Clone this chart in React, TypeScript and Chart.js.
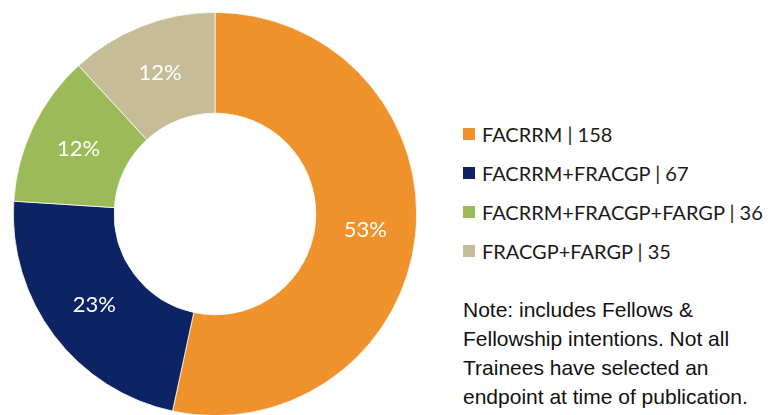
import React, { useEffect, useRef } from "react";
import { Chart, registerables } from "chart.js";

Chart.register(...registerables);

const categories = ["FACRRM", "FACRRM+FRACGP", "FACRRM+FRACGP+FARGP", "FRACGP+FARGP"];
const values = [158, 67, 36, 35];
const colors = ["#F0922B", "#0C2463", "#9BBB59", "#C4BD97"];
const noteLines = [
  "Note: includes Fellows &",
  "Fellowship intentions. Not all",
  "Trainees have selected an",
  "endpoint at time of publication.",
];

const labelPlugin = {
  id: "sliceLabels",
  afterDatasetsDraw(chart: any) {
    const ctx = chart.ctx;
    const meta = chart.getDatasetMeta(0);
    const data = chart.data.datasets[0].data as number[];
    const total = data.reduce((a, b) => a + b, 0);
    ctx.save();
    ctx.fillStyle = "#ffffff";
    ctx.font = "22px Lato";
    ctx.textAlign = "center";
    ctx.textBaseline = "middle";
    meta.data.forEach((arc: any, i: number) => {
      const p = arc.tooltipPosition();
      const pct = Math.round((data[i] / total) * 100);
      ctx.fillText(pct + "%", p.x, p.y);
    });
    ctx.restore();
  },
};

export default function App() {
  const ref = useRef<HTMLCanvasElement | null>(null);
  useEffect(() => {
    if (!ref.current) return;
    const chart = new Chart(ref.current, {
      type: "doughnut",
      data: {
        labels: categories,
        datasets: [
          {
            data: values,
            backgroundColor: colors,
            borderColor: "#ffffff",
            borderWidth: 0.75,
          },
        ],
      },
      options: {
        animation: false,
        responsive: false,
        cutout: "50%",
        layout: { padding: 0 },
        plugins: { legend: { display: false }, tooltip: { enabled: false } },
      },
      plugins: [labelPlugin],
    });
    return () => chart.destroy();
  }, []);

  return (
    <div
      style={{
        position: "fixed",
        left: 0,
        top: 0,
        width: 776,
        height: 415,
        overflow: "hidden",
        background: "#fff",
      }}
    >
      <div style={{ position: "absolute", left: 13, top: 12, width: 404, height: 404 }}>
        <canvas ref={ref} width={404} height={404} style={{ width: 404, height: 404 }} />
      </div>
      <div style={{ position: "absolute", left: 463, top: 114 }}>
        {categories.map((c, i) => (
          <div
            key={c}
            style={{
              display: "flex",
              alignItems: "center",
              height: 39,
              fontFamily: "Lato",
              fontSize: 20,
              color: "#1a1a1a",
              whiteSpace: "pre",
            }}
          >
            <span
              style={{
                display: "inline-block",
                width: 12,
                height: 12,
                background: colors[i],
                marginRight: 7,
              }}
            />
            {c + " | " + values[i]}
          </div>
        ))}
      </div>
      <div
        style={{
          position: "absolute",
          left: 463,
          top: 295,
          fontFamily: "'Liberation Sans', Arial, sans-serif",
          fontSize: 21,
          lineHeight: "29px",
          color: "#111",
          whiteSpace: "nowrap",
        }}
      >
        {noteLines.map((l) => (
          <div key={l}>{l}</div>
        ))}
      </div>
    </div>
  );
}
